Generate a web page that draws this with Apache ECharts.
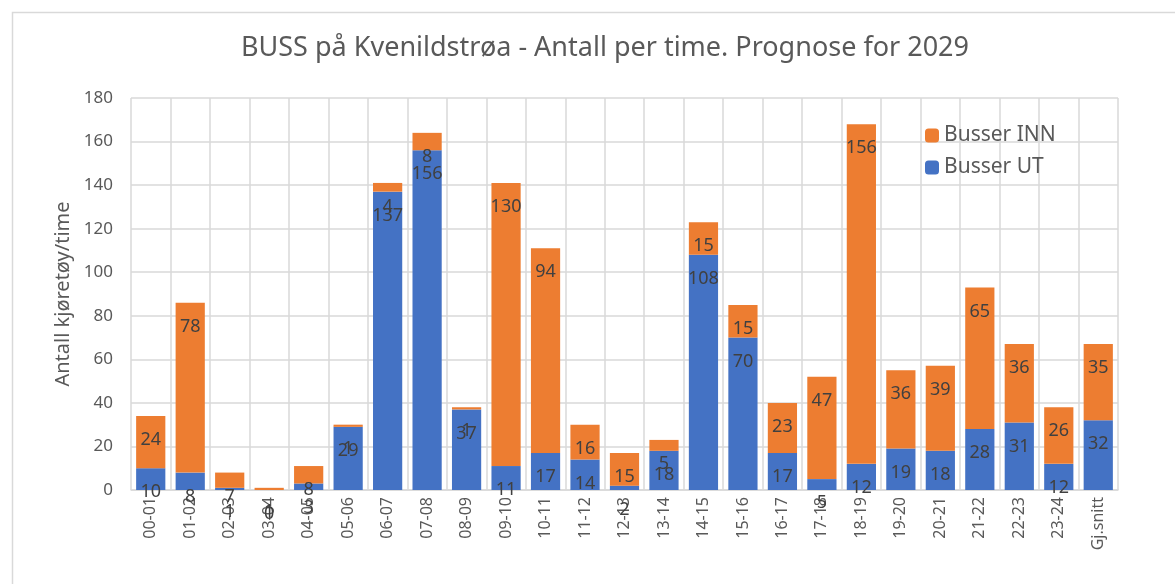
<!DOCTYPE html>
<html>
<head>
<meta charset="utf-8">
<script src="https://cdn.jsdelivr.net/npm/echarts@6/dist/echarts.min.js"></script>
<style>
    html, body { margin: 0; padding: 0; background: #fff; }
    #chartDiv { width: 1175px; height: 584px; }
</style>
</head>
<body>
<div id="chartDiv"></div>
<script>
// tidsintervall (kategorier)
var hours = ['00-01', '01-02', '02-03', '03-04', '04-05', '05-06', '06-07', '07-08', '08-09', '09-10',
    '10-11', '11-12', '12-13', '13-14', '14-15', '15-16', '16-17', '17-18', '18-19', '19-20',
    '20-21', '21-22', '22-23', '23-24', 'Gj.snitt'];

// busser ut (nederst i stabelen)
var busserUt = [10, 8, 1, 0, 3, 29, 137, 156, 37, 11,
    17, 14, 2, 18, 108, 70, 17, 5, 12, 19,
    18, 28, 31, 12, 32];

// busser inn (øverst i stabelen)
var busserInn = [24, 78, 7, 1, 8, 1, 4, 8, 1, 130,
    94, 16, 15, 5, 15, 15, 23, 47, 156, 36,
    39, 65, 36, 26, 35];

var yTicks = {min: 0, max: 180, interval: 20};

var fontName = 'Noto Sans';

/*
* etikett inne i toppen av hvert segment
* */
function barLabel() {
    return {
        show: true,
        position: ['50%', 24],
        align: 'center',
        verticalAlign: 'middle',
        color: '#404040',
        fontSize: 18,
        fontFamily: fontName
    };
}

var chart = echarts.init(document.getElementById('chartDiv'));

var option = {
    backgroundColor: '#fff',
    animation: false,
    textStyle: {fontFamily: fontName},
    title: {
        text: 'BUSS på Kvenildstrøa - Antall per time. Prognose for 2029',
        left: 236,
        top: 30,
        textStyle: {
            color: '#595959',
            fontSize: 27,
            fontWeight: 'normal',
            fontFamily: fontName
        }
    },
    graphic: [
        {
            type: 'rect',
            left: 10,
            top: 10,
            shape: {width: 1175, height: 584},
            style: {fill: 'none', stroke: '#d9d9d9', lineWidth: 1.5},
            silent: true
        }
    ],
    legend: {
        orient: 'vertical',
        left: 920,
        top: 120,
        itemWidth: 14,
        itemHeight: 14,
        itemGap: 11,
        data: ['Busser INN', 'Busser UT'],
        textStyle: {color: '#595959', fontSize: 21, fontFamily: fontName}
    },
    grid: {
        left: 131,
        right: 57,
        top: 98,
        bottom: 94
    },
    xAxis: {
        type: 'category',
        data: hours,
        axisLine: {lineStyle: {color: '#d9d9d9', width: 1.5}},
        axisTick: {show: false},
        splitLine: {show: true, lineStyle: {color: '#d9d9d9', width: 1.5}},
        axisLabel: {
            rotate: 90,
            interval: 0,
            margin: 7,
            color: '#595959',
            fontSize: 16,
            fontFamily: fontName
        }
    },
    yAxis: {
        type: 'value',
        min: yTicks.min,
        max: yTicks.max,
        interval: yTicks.interval,
        name: 'Antall kjøretøy/time',
        nameLocation: 'middle',
        nameGap: 58,
        nameTextStyle: {color: '#595959', fontSize: 20, fontFamily: fontName},
        axisLine: {show: false},
        axisTick: {show: false},
        splitLine: {lineStyle: {color: '#d9d9d9', width: 1.5}},
        axisLabel: {color: '#595959', fontSize: 17, margin: 18, fontFamily: fontName}
    },
    series: [
        {
            name: 'Busser UT',
            type: 'bar',
            stack: 'buss',
            barCategoryGap: '26%',
            itemStyle: {color: '#4472C4'},
            label: barLabel(),
            data: busserUt
        },
        {
            name: 'Busser INN',
            type: 'bar',
            stack: 'buss',
            barCategoryGap: '26%',
            itemStyle: {color: '#ED7D31'},
            label: barLabel(),
            data: busserInn
        }
    ]
};
chart.setOption(option);
</script>
</body>
</html>
